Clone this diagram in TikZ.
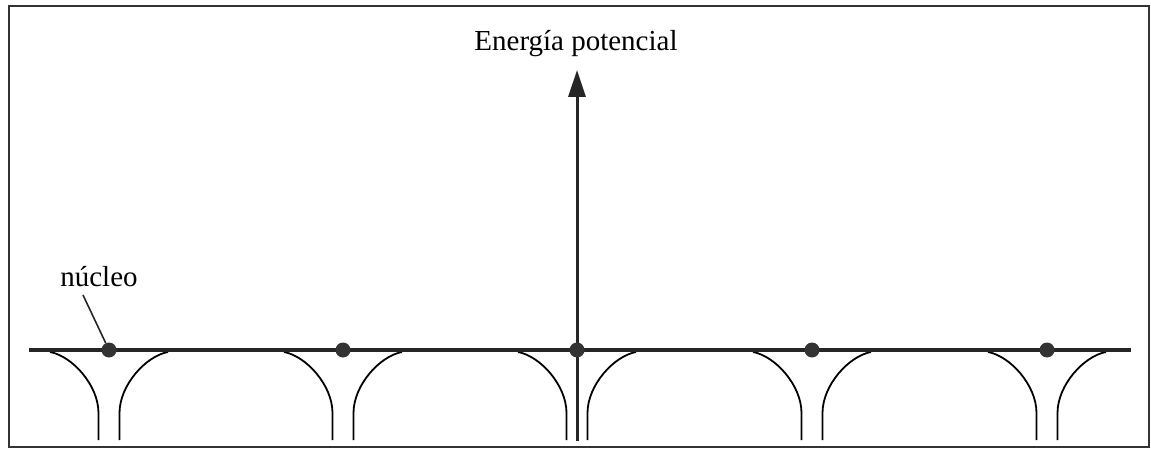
\documentclass[tikz,border=0pt]{standalone}
\usepackage{fontspec}
\setmainfont{Liberation Serif}
\usetikzlibrary{arrows.meta}
\begin{document}
\begin{tikzpicture}[x=1pt,y=-1pt,
  frame/.style={draw=black!80,line width=2pt},
  axisline/.style={draw=black!85,line width=3.5pt},
  axisarrow/.style={draw=black!85,line width=3pt,-{Triangle[length=27pt,width=17pt]}},
  curve/.style={draw=black,line width=1.8pt},
  nucleus/.style={circle,fill=black!80,inner sep=0pt,minimum size=15pt},
  lbl/.style={font=\fontsize{29}{34}\selectfont,inner sep=0pt},
  leader/.style={draw=black!85,line width=1.6pt}]
\useasboundingbox (0,0) rectangle (1151,449);
\draw[frame] (9,6) rectangle (1149,447);
% curves
\foreach \x in {109,343,577,812,1047}{
  \draw[curve] ({\x-59},352) .. controls ({\x-37},356) and ({\x-10.5},385) .. ({\x-10.5},413) -- ({\x-10.5},440);
  \draw[curve] ({\x+59},352) .. controls ({\x+37},356) and ({\x+10.5},385) .. ({\x+10.5},413) -- ({\x+10.5},440);
}
\coordinate (L) at (29,350);
\coordinate (R) at (1131,350);
\coordinate (A0) at (577,441);
\coordinate (A1) at (577,70);
\draw[axisline] (L) -- (R);
\draw[axisarrow] (A0) -- (A1);
\node[nucleus] (n1) at (109,350) {};
\node[nucleus] (n2) at (343,350) {};
\node[nucleus] (n3) at (577,350) {};
\node[nucleus] (n4) at (812,350) {};
\node[nucleus] (n5) at (1047,350) {};
\node[lbl] (ep) at (576,44) {Energía potencial};
\node[lbl] (nuc) at (99,277) {núcleo};
\coordinate (t1) at (83,295);
\draw[leader] (t1) -- (n1);
\end{tikzpicture}
\end{document}
